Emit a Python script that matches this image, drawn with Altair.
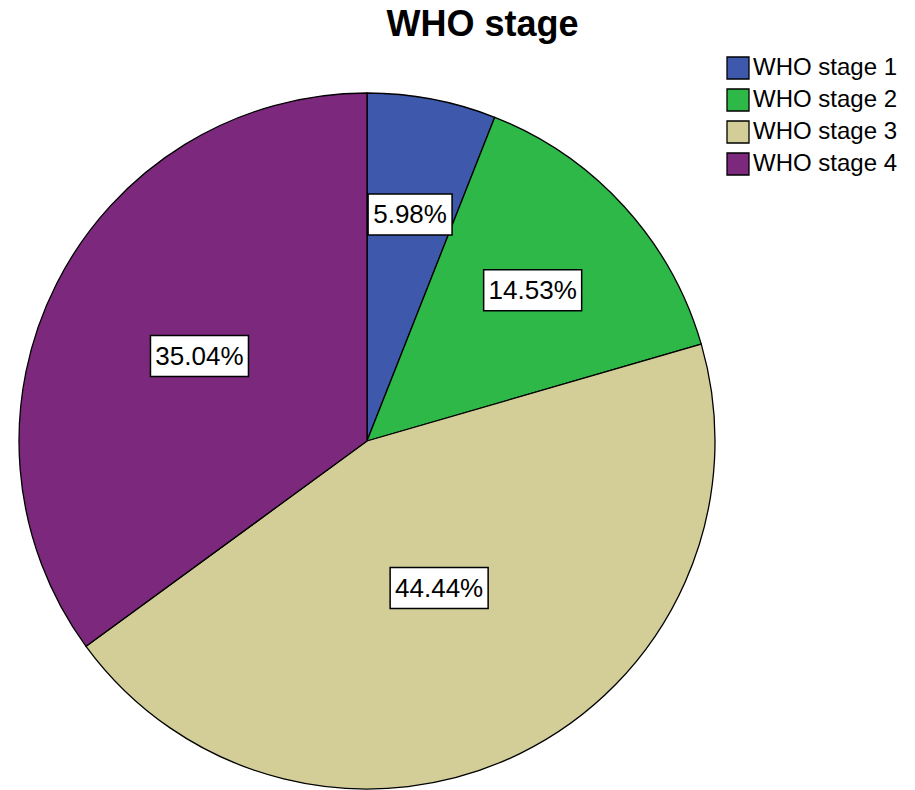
import altair as alt
import pandas as pd

# Share of patients by WHO clinical stage
stages = ["WHO stage 1", "WHO stage 2", "WHO stage 3", "WHO stage 4"]
percent = [5.98, 14.53, 44.44, 35.04]
colors = ["#3E58AC", "#2EB848", "#D3CE97", "#7C287D"]

# Layout (pixels)
WIDTH, HEIGHT = 915, 740
TOP_PAD = 50
CX, CY = 367, 391          # pie centre inside the plot area
RADIUS = 348
BOX_H = 41
FONT = "Liberation Sans"

df = pd.DataFrame({
    "stage": stages,
    "pct": percent,
    "order": list(range(len(stages))),
    "label": [f"{p:.2f}%" for p in percent],
})

base = alt.Chart(df)

pie = base.mark_arc(
    outerRadius=RADIUS, stroke="black", strokeWidth=1.3
).encode(
    x=alt.value(CX),
    y=alt.value(CY),
    theta=alt.Theta("pct:Q", stack=True),
    order=alt.Order("order:Q"),
    color=alt.Color(
        "stage:N",
        scale=alt.Scale(domain=stages, range=colors),
        legend=alt.Legend(
            title=None,
            orient="none",
            legendX=726,
            legendY=6,
            symbolType="square",
            symbolSize=484,
            symbolStrokeColor="black",
            symbolStrokeWidth=1.3,
            symbolOpacity=1,
            labelFont=FONT,
            labelFontSize=24,
            labelColor="black",
            labelOffset=3,
            rowPadding=4,
        ),
    ),
)

# Each label sits on the centroid of its slice:
# distance from centre = 2 R sin(a) / (3 a), with a the half-angle of the slice
labelled = base.transform_joinaggregate(
    total="sum(pct)"
).transform_window(
    cum="sum(pct)", sort=[alt.SortField("order")], frame=[None, 0]
).transform_calculate(
    mid="(datum.cum - datum.pct / 2) / datum.total * 2 * PI",
    half="datum.pct / datum.total * PI",
).transform_calculate(
    r=f"2 * {RADIUS} * sin(datum.half) / (3 * datum.half)",
).transform_calculate(
    cx=f"{CX} + datum.r * sin(datum.mid)",
    cy=f"{CY} - datum.r * cos(datum.mid)",
    bw="14 * length(datum.label) + 14",
).transform_calculate(
    x0="datum.cx - datum.bw / 2",
    x1="datum.cx + datum.bw / 2",
    y0=f"datum.cy - {BOX_H / 2}",
    y1=f"datum.cy + {BOX_H / 2}",
)

boxes = labelled.mark_rect(fill="white", stroke="black", strokeWidth=1.5).encode(
    x=alt.X("x0:Q", scale=None),
    x2="x1:Q",
    y=alt.Y("y0:Q", scale=None),
    y2="y1:Q",
)

texts = labelled.mark_text(
    font=FONT, fontSize=26, color="black", align="center", baseline="middle", dy=1
).encode(
    x=alt.X("cx:Q", scale=None),
    y=alt.Y("cy:Q", scale=None),
    text="label:N",
)

chart = alt.layer(pie, boxes, texts).properties(
    width=WIDTH,
    height=HEIGHT,
    autosize=alt.AutoSizeParams(type="none"),
    padding={"left": 0, "top": TOP_PAD, "right": 0, "bottom": 0},
    title=alt.TitleParams(
        "WHO stage",
        font=FONT,
        fontSize=36,
        fontWeight="bold",
        color="black",
        anchor="middle",
        dx=25,
        dy=35,
        baseline="alphabetic",
        offset=13,
    ),
    background="white",
).configure_view(stroke=None)

chart.save("out.html", embed_options={"renderer": "svg", "actions": False})
